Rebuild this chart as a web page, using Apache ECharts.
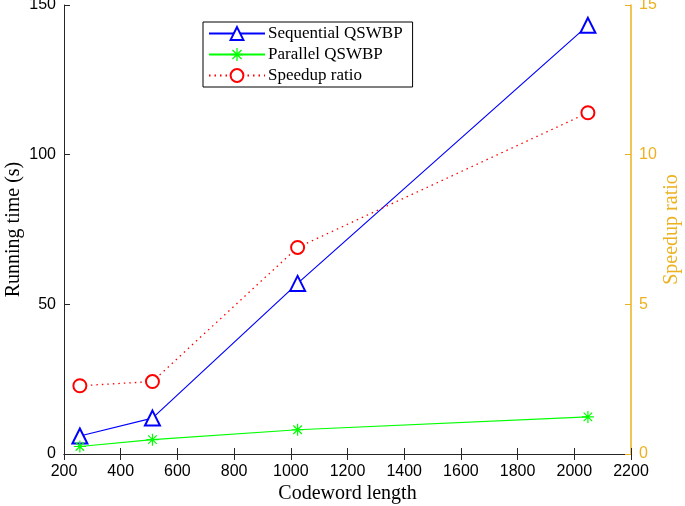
<!DOCTYPE html>
<html>
<head>
<meta charset="utf-8">
<script src="https://cdn.jsdelivr.net/npm/echarts@6/dist/echarts.min.js"></script>
<style>html,body{margin:0;padding:0;background:#fff;}#c{width:685px;height:506px;}</style>
</head>
<body>
<div id="c"></div>
<script>
const codewordLength = [256, 512, 1024, 2048];
const sequentialQSWBP = [6, 12, 57, 143.2];
const parallelQSWBP = [2.5, 4.8, 8.1, 12.4];
const speedupRatio = [2.28, 2.42, 6.9, 11.4];
const xTicks = {min: 200, max: 2200, interval: 200};
const leftTicks = {min: 0, max: 150, interval: 50};
const rightTicks = {min: 0, max: 15, interval: 5};

const gold = '#EDB120';
const axisCol = '#262626';
const serif = 'Liberation Serif, Times New Roman, serif';
const asterisk = 'path://M9,0 L11,0 L11,20 L9,20 Z M0,9 L20,9 L20,11 L0,11 Z M2.2,3.6 L3.6,2.2 L17.8,16.4 L16.4,17.8 Z M16.4,2.2 L17.8,3.6 L3.6,17.8 L2.2,16.4 Z';

const pairs = (xs, ys) => xs.map((x, i) => [x, ys[i]]);

const chart = echarts.init(document.getElementById('c'), null, {renderer: 'canvas'});
const tickFont = {fontFamily: 'Liberation Sans, Arial, sans-serif', fontSize: 16, color: '#000'};
chart.setOption({
  animation: false,
  backgroundColor: '#fff',
  grid: {left: 64, right: 54, top: 5, bottom: 52, containLabel: false, outerBoundsMode: 'none'},
  legend: {
    left: 203, top: 22, orient: 'vertical',
    backgroundColor: '#fff', borderColor: '#000', borderWidth: 1,
    padding: [3, 10, 3, 5], itemGap: 4, itemWidth: 56, itemHeight: 16,
    textStyle: {fontFamily: serif, fontSize: 17, color: '#000', padding: [0, 0, 0, -2]},
    data: ['Sequential QSWBP', 'Parallel QSWBP', 'Speedup ratio']
  },
  xAxis: [{
    type: 'value', min: xTicks.min, max: xTicks.max, interval: xTicks.interval,
    name: 'Codeword length', nameLocation: 'middle', nameGap: 30, nameMoveOverlap: false,
    nameTextStyle: {fontFamily: serif, fontSize: 20, color: '#000'},
    axisLine: {lineStyle: {color: axisCol, width: 1}},
    axisTick: {inside: true, length: 6, lineStyle: {color: axisCol}},
    axisLabel: Object.assign({margin: 10, formatter: v => String(v)}, tickFont),
    splitLine: {show: false}
  }, {
    type: 'value', position: 'top', min: xTicks.min, max: xTicks.max, interval: xTicks.interval,
    axisLine: {lineStyle: {color: axisCol, width: 1}},
    axisTick: {inside: true, length: 6, lineStyle: {color: axisCol}},
    axisLabel: {show: false}, splitLine: {show: false}
  }],
  yAxis: [{
    type: 'value', position: 'left', min: leftTicks.min, max: leftTicks.max, interval: leftTicks.interval,
    name: 'Running time (s)', nameLocation: 'middle', nameGap: 40, nameMoveOverlap: false,
    nameTextStyle: {fontFamily: serif, fontSize: 20, color: '#000'},
    axisLine: {show: true, lineStyle: {color: axisCol, width: 1}},
    axisTick: {show: true, inside: true, length: 6, lineStyle: {color: axisCol}},
    axisLabel: Object.assign({margin: 8}, tickFont),
    splitLine: {show: false}
  }, {
    type: 'value', position: 'right', min: rightTicks.min, max: rightTicks.max, interval: rightTicks.interval,
    name: 'Speedup ratio', nameLocation: 'middle', nameGap: 31, nameRotate: 90, nameMoveOverlap: false,
    nameTextStyle: {fontFamily: serif, fontSize: 20, color: gold},
    axisLine: {show: true, lineStyle: {color: gold, width: 1.5}},
    axisTick: {show: true, inside: true, length: 6, lineStyle: {color: gold}},
    axisLabel: Object.assign({}, tickFont, {color: gold, margin: 8}),
    splitLine: {show: false}
  }],
  series: [{
    name: 'Sequential QSWBP', type: 'line', yAxisIndex: 0,
    data: pairs(codewordLength, sequentialQSWBP),
    symbol: 'emptyTriangle', symbolSize: 15,
    lineStyle: {color: '#0000FF', width: 1.2},
    itemStyle: {color: '#0000FF', borderWidth: 2}
  }, {
    name: 'Parallel QSWBP', type: 'line', yAxisIndex: 0,
    data: pairs(codewordLength, parallelQSWBP),
    symbol: asterisk, symbolSize: 12,
    lineStyle: {color: '#00FF00', width: 1.2},
    itemStyle: {color: '#00FF00'}
  }, {
    name: 'Speedup ratio', type: 'line', yAxisIndex: 1,
    data: pairs(codewordLength, speedupRatio),
    symbol: 'emptyCircle', symbolSize: 13,
    lineStyle: {color: '#FF0000', width: 1.3, type: [1.5, 4]},
    itemStyle: {color: '#FF0000', borderWidth: 1.8}
  }]
});
</script>
</body>
</html>
